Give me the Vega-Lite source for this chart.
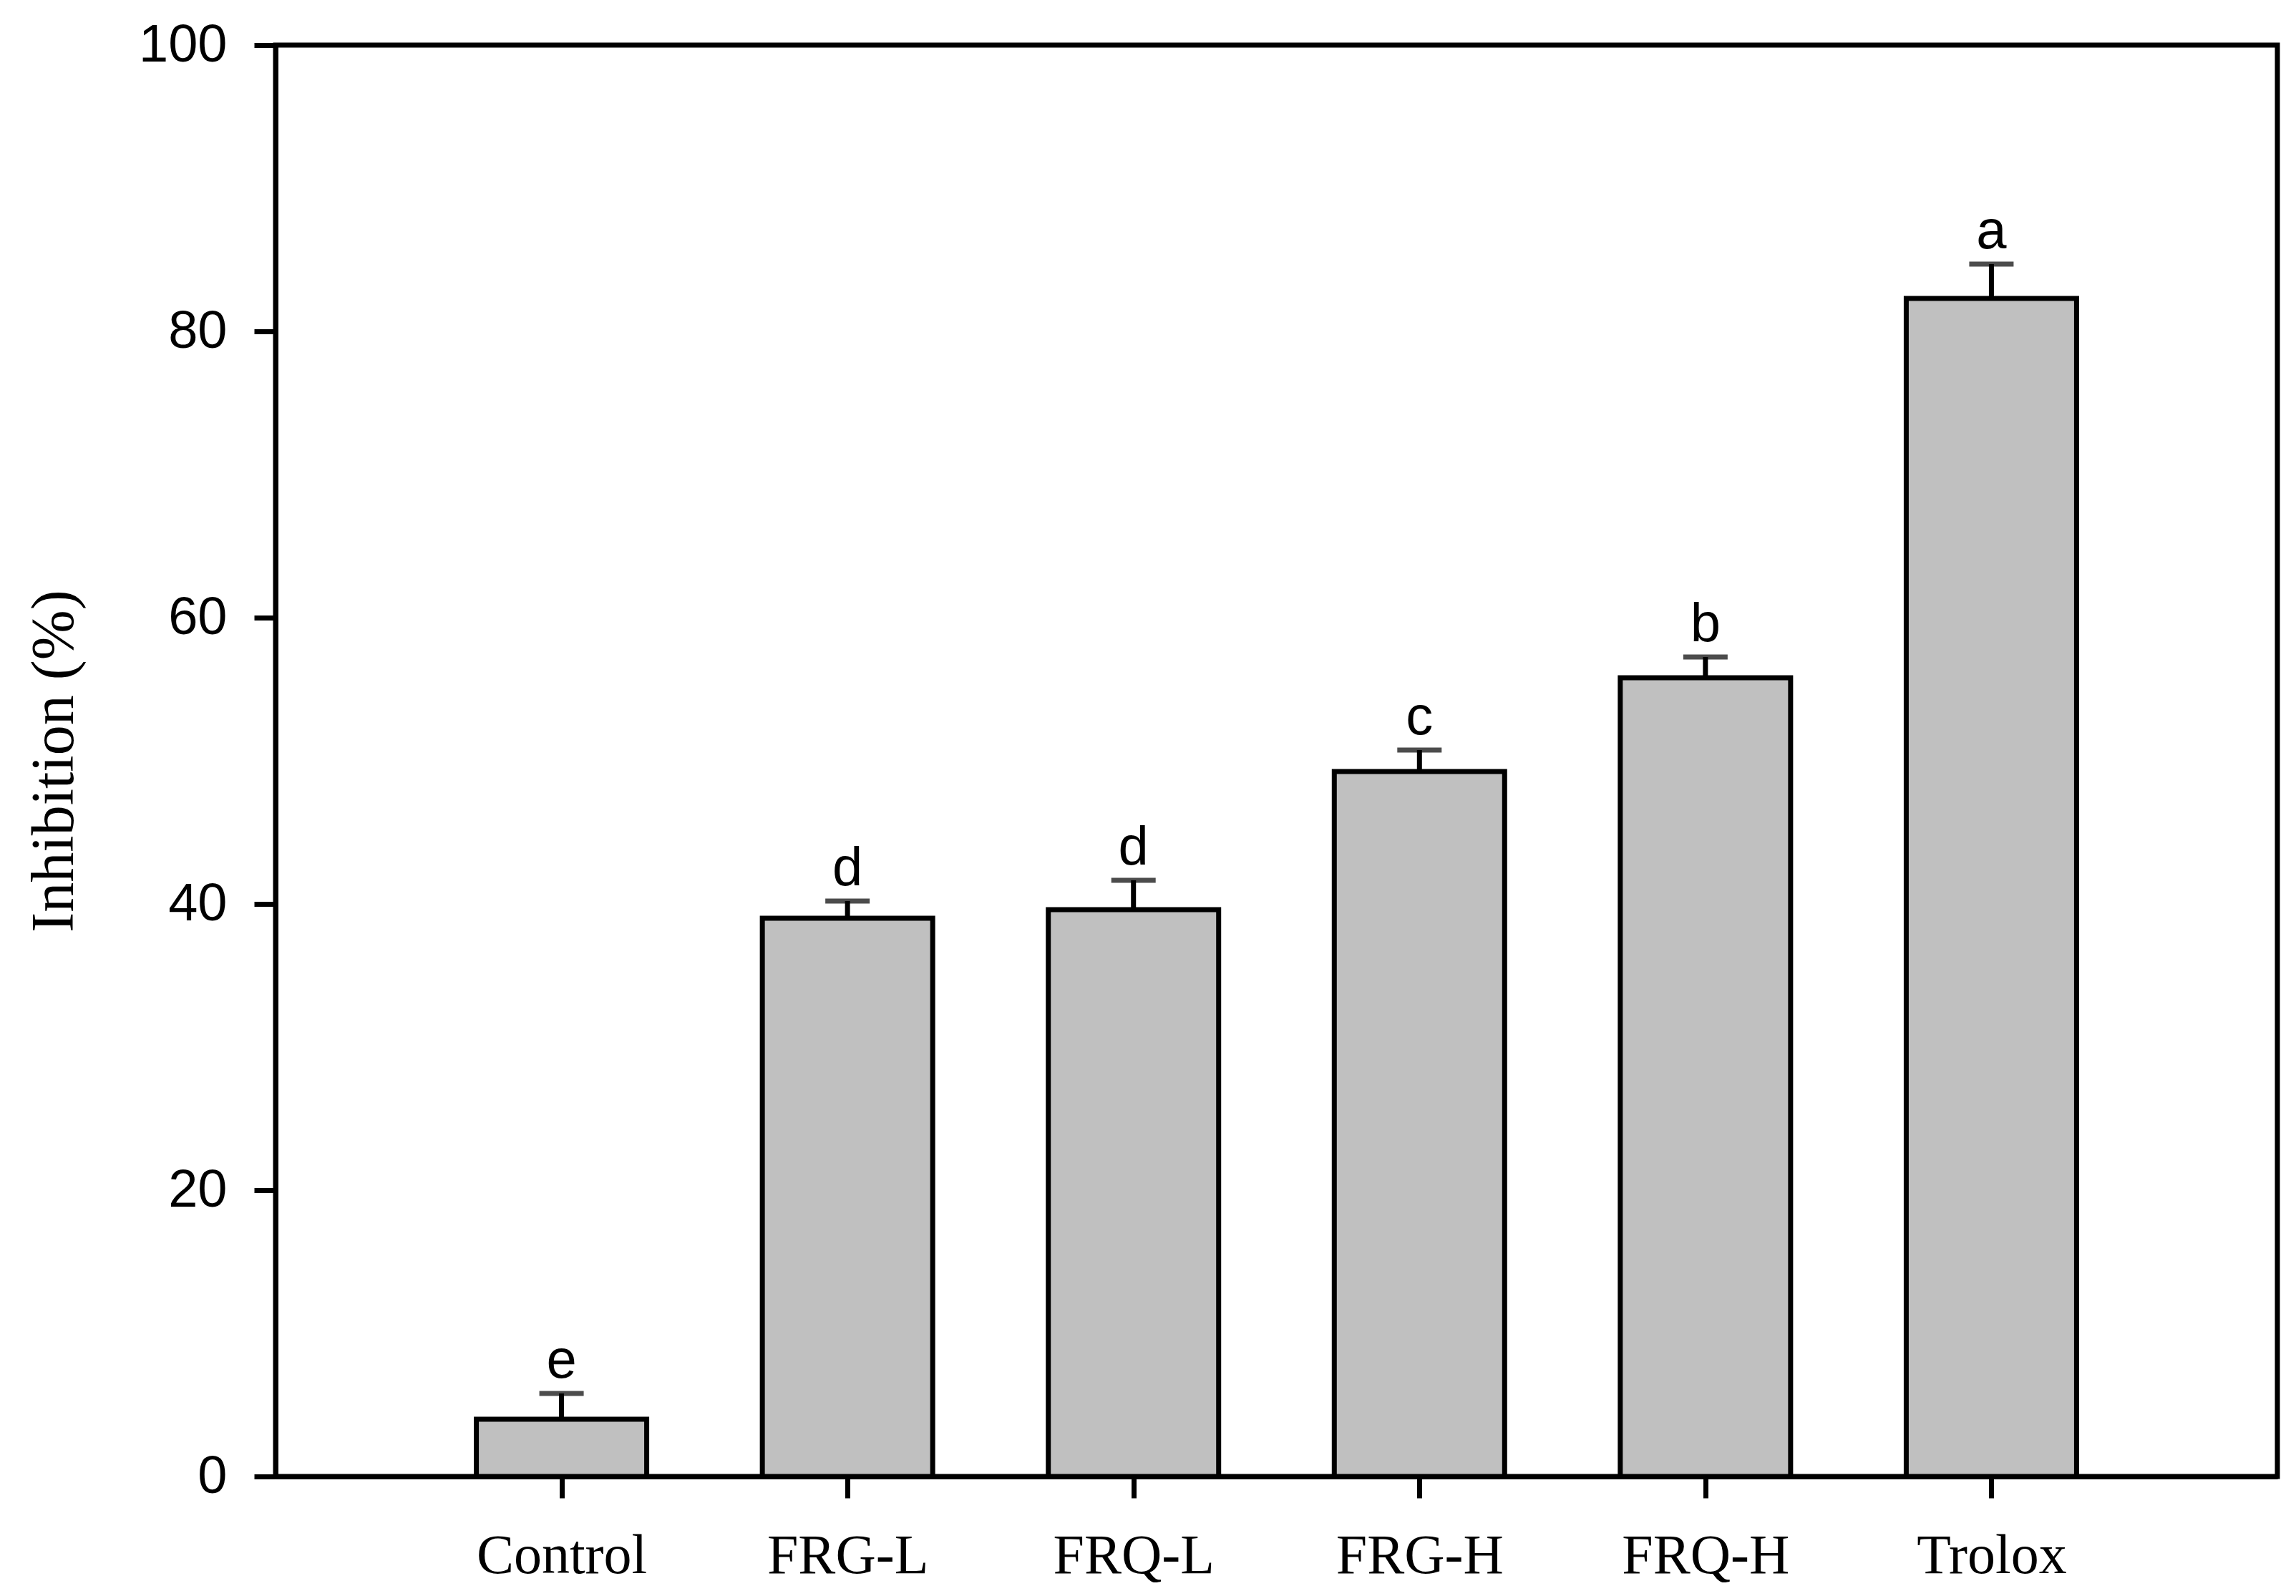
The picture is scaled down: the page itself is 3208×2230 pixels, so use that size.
{
  "$schema": "https://vega.github.io/schema/vega-lite/v6.json",
  "width": 2797,
  "height": 2000,
  "autosize": {"type": "none"},
  "padding": {"left": 385, "top": 63, "right": 26, "bottom": 167},
  "background": "white",
  "config": {
    "view": {"stroke": "black", "strokeWidth": 7},
    "axis": {
      "domainColor": "black", "domainWidth": 7,
      "tickColor": "black", "tickWidth": 7, "tickSize": 30,
      "labelColor": "black", "titleColor": "black",
      "grid": false, "labelLimit": 0
    }
  },
  "data": {
    "values": [
      {"group": "Control", "mean": 4.0, "upper": 5.8, "letter": "e"},
      {"group": "FRG-L", "mean": 39.0, "upper": 40.2, "letter": "d"},
      {"group": "FRQ-L", "mean": 39.6, "upper": 41.65, "letter": "d"},
      {"group": "FRG-H", "mean": 49.25, "upper": 50.75, "letter": "c"},
      {"group": "FRQ-H", "mean": 55.8, "upper": 57.25, "letter": "b"},
      {"group": "Trolox", "mean": 82.3, "upper": 84.7, "letter": "a"}
    ]
  },
  "encoding": {
    "x": {
      "field": "group", "type": "nominal", "sort": null,
      "scale": {"type": "point", "padding": 1},
      "axis": {
        "title": null, "labelAngle": 0,
        "labelFont": "Liberation Serif", "labelFontSize": 78,
        "labelPadding": 42, "labelLimit": 0
      }
    }
  },
  "layer": [
    {
      "mark": {"type": "rule", "color": "black", "strokeWidth": 7},
      "encoding": {
        "y": {"field": "mean", "type": "quantitative"},
        "y2": {"field": "upper"}
      }
    },
    {
      "mark": {"type": "bar", "width": 238, "fill": "#C0C0C0", "stroke": "black", "strokeWidth": 7},
      "encoding": {
        "y": {
          "field": "mean", "type": "quantitative",
          "scale": {"domain": [0, 100], "nice": false},
          "axis": {
            "title": "Inhibition (%)",
            "values": [0, 20, 40, 60, 80, 100],
            "labelFont": "Liberation Sans", "labelFontSize": 74,
            "labelPadding": 38,
            "titleFont": "Liberation Serif", "titleFontSize": 84,
            "titleFontWeight": "normal", "titlePadding": 74
          }
        }
      }
    },
    {
      "mark": {"type": "tick", "color": "black", "size": 62, "thickness": 7, "orient": "horizontal"},
      "encoding": {
        "y": {"field": "upper", "type": "quantitative"}
      }
    },
    {
      "mark": {"type": "text", "font": "Liberation Sans", "fontSize": 76, "baseline": "alphabetic", "dy": -22, "color": "black"},
      "encoding": {
        "y": {"field": "upper", "type": "quantitative"},
        "text": {"field": "letter"}
      }
    }
  ]
}
